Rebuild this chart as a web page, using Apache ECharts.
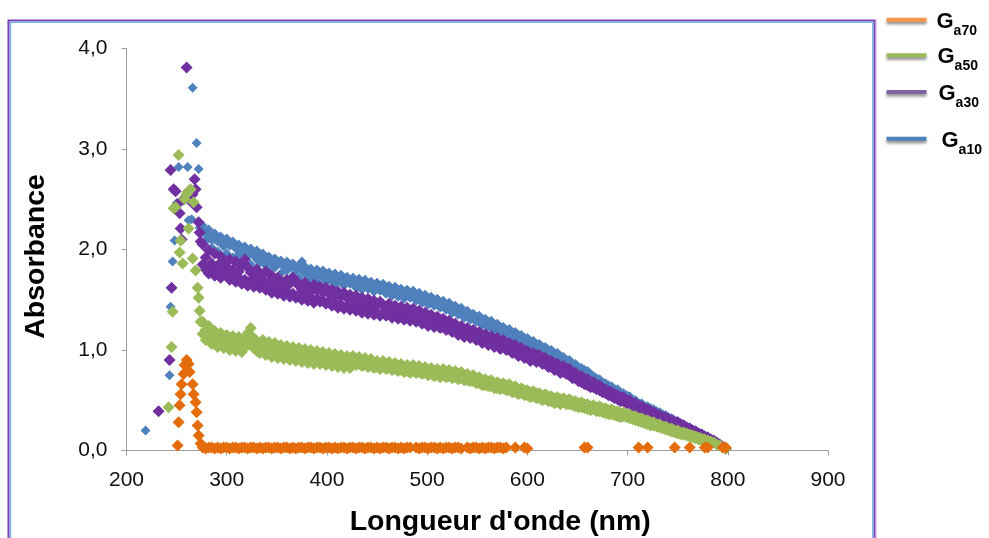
<!DOCTYPE html>
<html><head><meta charset="utf-8">
<script src="https://cdn.jsdelivr.net/npm/echarts@6/dist/echarts.min.js"></script>
<style>html,body{margin:0;padding:0;background:#fff}#c{width:989px;height:538px}</style>
</head><body><div id="c"></div>
<script>
// ---- data ----
const seriesNames = ['Ga70', 'Ga50', 'Ga30', 'Ga10'];
const xTicks = [200, 300, 400, 500, 600, 700, 800, 900];
const yTicks = [0, 1, 2, 3, 4];
const yTickLabels = ['0,0', '1,0', '2,0', '3,0', '4,0'];

const wavelengths = [
  276,279,282,285,288,291,294,297,300,303,
  306,309,312,315,318,321,324,327,330,333,
  336,339,342,345,348,351,354,357,360,363,
  366,369,372,375,378,381,384,387,390,393,
  396,399,402,405,408,411,414,417,420,423,
  426,429,432,435,438,441,444,447,450,453,
  456,459,462,465,468,471,474,477,480,483,
  486,489,492,495,498,501,504,507,510,513,
  516,519,522,525,528,531,534,537,540,543,
  546,549,552,555,558,561,564,567,570,573,
  576,579,582,585,588,591,594,597,600,603,
  606,609,612,615,618,621,624,627,630,633,
  636,639,642,645,648,651,654,657,660,663,
  666,669,672,675,678,681,684,687,690,693,
  696,699,702,705,708,711,714,717,720,723,
  726,729,732,735,738,741,744,747,750,753,
  756,759,762,765,768,771,774,777,780,783,
  786,789,792,795,798
];

// first reading of each band
const ga10Band = [
  2.18,2.08,2.14,2.02,2.10,1.98,2.07,2.03,1.96,2.04,
  1.92,2.02,1.95,1.88,1.99,1.93,1.85,1.96,1.90,1.87,
  1.93,1.84,1.80,1.89,1.82,1.86,1.76,1.83,1.79,1.85,
  1.74,1.79,1.72,1.88,1.76,1.70,1.77,1.72,1.68,1.75,
  1.72,1.67,1.74,1.69,1.65,1.71,1.68,1.64,1.70,1.66,
  1.67,1.62,1.66,1.60,1.64,1.61,1.65,1.58,1.62,1.59,
  1.61,1.56,1.59,1.54,1.58,1.53,1.56,1.51,1.55,1.52,
  1.54,1.49,1.52,1.47,1.50,1.45,1.48,1.44,1.46,1.42,
  1.44,1.40,1.42,1.37,1.39,1.35,1.36,1.32,1.34,1.30,
  1.31,1.28,1.29,1.25,1.26,1.23,1.24,1.20,1.21,1.18,
  1.19,1.16,1.16,1.12,1.13,1.10,1.10,1.07,1.07,1.04,
  1.04,1.01,1.01,0.98,0.98,0.95,0.95,0.92,0.92,0.89,
  0.89,0.86,0.86,0.82,0.82,0.79,0.78,0.76,0.75,0.72,
  0.71,0.69,0.68,0.65,0.64,0.62,0.61,0.58,0.58,0.55,
  0.54,0.52,0.51,0.48,0.48,0.45,0.45,0.42,0.42,0.40,
  0.39,0.37,0.36,0.34,0.33,0.31,0.31,0.29,0.28,0.26,
  0.25,0.23,0.22,0.20,0.19,0.17,0.16,0.14,0.13,0.11,
  0.10,0.08,0.06,0.04,0.02
];
const ga30Band = [
  2.05,1.92,1.99,1.86,1.96,1.84,1.93,1.88,1.82,1.90,
  1.80,1.88,1.78,1.84,1.90,1.82,1.77,1.71,1.80,1.75,
  1.70,1.78,1.68,1.74,1.65,1.72,1.67,1.63,1.70,1.66,
  1.72,1.69,1.64,1.60,1.67,1.62,1.58,1.65,1.60,1.63,
  1.57,1.62,1.56,1.60,1.54,1.58,1.53,1.57,1.52,1.55,
  1.50,1.54,1.48,1.52,1.46,1.51,1.45,1.49,1.44,1.48,
  1.45,1.42,1.46,1.40,1.44,1.39,1.43,1.38,1.42,1.39,
  1.41,1.36,1.39,1.34,1.37,1.32,1.35,1.31,1.33,1.30,
  1.31,1.28,1.29,1.25,1.26,1.23,1.24,1.20,1.22,1.19,
  1.20,1.17,1.18,1.14,1.16,1.12,1.14,1.10,1.12,1.08,
  1.10,1.07,1.07,1.04,1.05,1.01,1.02,0.99,0.99,0.96,
  0.97,0.95,0.95,0.92,0.92,0.89,0.89,0.86,0.86,0.83,
  0.84,0.81,0.81,0.77,0.77,0.74,0.74,0.71,0.71,0.68,
  0.68,0.65,0.65,0.62,0.61,0.59,0.58,0.56,0.55,0.53,
  0.53,0.50,0.50,0.47,0.47,0.44,0.44,0.41,0.41,0.39,
  0.38,0.36,0.35,0.33,0.33,0.31,0.30,0.28,0.28,0.26,
  0.25,0.23,0.22,0.20,0.19,0.17,0.16,0.14,0.13,0.11,
  0.10,0.08,0.06,0.04,0.02
];
const ga50Band = [
  1.28,1.20,1.24,1.16,1.19,1.13,1.17,1.11,1.15,1.10,
  1.14,1.09,1.13,1.08,1.12,1.17,1.22,1.12,1.09,1.06,
  1.10,1.04,1.08,1.02,1.07,1.01,1.05,1.00,1.04,0.99,
  1.03,0.98,1.02,0.97,1.01,0.96,1.00,0.95,0.99,0.96,
  0.98,0.94,0.97,0.93,0.96,0.92,0.95,0.91,0.94,0.92,
  0.94,0.90,0.93,0.89,0.92,0.88,0.91,0.87,0.89,0.86,
  0.89,0.86,0.88,0.85,0.87,0.84,0.86,0.83,0.85,0.82,
  0.85,0.82,0.84,0.81,0.83,0.80,0.82,0.79,0.81,0.78,
  0.81,0.78,0.80,0.77,0.79,0.76,0.78,0.75,0.76,0.74,
  0.75,0.72,0.73,0.70,0.71,0.69,0.70,0.67,0.68,0.66,
  0.67,0.65,0.66,0.63,0.64,0.61,0.62,0.60,0.60,0.58,
  0.59,0.57,0.57,0.55,0.56,0.54,0.54,0.52,0.53,0.51,
  0.52,0.50,0.51,0.49,0.49,0.47,0.48,0.46,0.46,0.44,
  0.45,0.43,0.44,0.42,0.42,0.40,0.41,0.39,0.39,0.37,
  0.38,0.36,0.36,0.34,0.34,0.32,0.32,0.30,0.30,0.28,
  0.28,0.26,0.26,0.24,0.24,0.22,0.22,0.20,0.20,0.18,
  0.18,0.17,0.16,0.15,0.14,0.13,0.12,0.11,0.10,0.09,
  0.08,0.06,0.05,0.03,0.02
];
const ga70Band = [
  0.03,0.02,0.03,0.03,0.02,0.03,0.02,0.03,0.03,0.02,
  0.03,0.03,0.02,0.03,0.03,0.02,0.03,0.03,0.02,0.03,
  0.02,0.03,0.03,0.02,0.03,0.03,0.02,0.03,0.03,0.02,
  0.03,0.02,0.03,0.03,0.02,0.03,0.03,0.02,0.03,0.03,
  0.02,0.03,0.03,0.02,0.03,0.02,0.03,0.03,0.02,0.03,
  0.03,0.02,0.03,0.03,0.02,0.03,0.03,0.02,0.03,0.02,
  0.03,0.03,0.02,0.03,0.03,0.02,0.03,0.02,0.03,0.03,
  null,0.03,0.02,0.03,0.03,0.02,0.03,0.03,0.02,0.03,
  0.02,0.03,0.03,0.02,0.03,0.03,0.02,null,0.03,0.02,
  0.03,0.03,0.02,0.03,0.02,0.03,0.03,0.02,0.03,0.03,
  0.02,0.03,null,null,0.03,null,null,0.03,0.02,null,
  null,null,null,null,null,null,null,null,null,null,
  null,null,null,null,null,null,null,0.03,0.03,null,
  null,null,null,null,null,null,null,null,null,null,
  null,null,null,null,null,0.03,null,null,0.03,null,
  null,null,null,null,null,null,null,0.03,null,null,
  null,null,0.03,null,null,null,null,0.03,0.03,null,
  null,null,null,0.03,0.03
];

// second reading (276-783 nm)
const ga10BandB = [
  2.24,2.15,2.20,2.10,2.16,2.08,2.13,2.06,2.11,2.04,
  2.08,2.01,2.05,1.98,2.03,1.96,2.01,1.94,1.99,1.93,
  1.96,1.90,1.93,1.87,1.91,1.85,1.89,1.83,1.88,1.82,
  1.86,1.80,1.84,1.79,1.83,1.77,1.81,1.76,1.80,1.75,
  1.79,1.74,1.77,1.72,1.76,1.71,1.75,1.70,1.73,1.69,
  1.72,1.68,1.71,1.66,1.70,1.65,1.68,1.64,1.67,1.63,
  1.66,1.61,1.64,1.60,1.63,1.58,1.61,1.57,1.60,1.56,
  1.59,1.54,1.57,1.52,1.55,1.50,1.53,1.49,1.51,1.47,
  1.49,1.45,1.47,1.43,1.44,1.40,1.42,1.38,1.39,1.35,
  1.36,1.33,1.34,1.30,1.31,1.28,1.29,1.25,1.26,1.23,
  1.23,1.20,1.21,1.17,1.18,1.15,1.15,1.12,1.12,1.09,
  1.09,1.06,1.06,1.03,1.03,1.00,1.00,0.97,0.97,0.94,
  0.93,0.90,0.90,0.86,0.86,0.83,0.82,0.80,0.79,0.76,
  0.74,0.72,0.71,0.68,0.67,0.65,0.64,0.61,0.61,0.58,
  0.57,0.55,0.54,0.51,0.50,0.47,0.47,0.44,0.44,0.42,
  0.41,0.39,0.38,0.36,0.35,0.33,0.32,0.30,0.29,0.27,
  0.26,0.24,0.23,0.21,0.20,0.18,0.17,0.15,0.14,0.12
];
const ga30BandB = [
  1.85,1.80,1.76,1.82,1.74,1.79,1.72,1.77,1.75,1.70,
  1.73,1.68,1.72,1.66,1.70,1.64,1.69,1.63,1.67,1.62,
  1.64,1.60,1.63,1.57,1.61,1.56,1.59,1.54,1.58,1.53,
  1.56,1.52,1.55,1.50,1.53,1.49,1.52,1.47,1.51,1.48,
  1.49,1.46,1.48,1.44,1.47,1.42,1.45,1.41,1.44,1.40,
  1.43,1.39,1.42,1.37,1.40,1.36,1.39,1.35,1.37,1.34,
  1.37,1.34,1.36,1.32,1.35,1.31,1.33,1.30,1.32,1.29,
  1.32,1.28,1.30,1.26,1.28,1.24,1.27,1.23,1.25,1.22,
  1.23,1.20,1.21,1.18,1.19,1.15,1.17,1.13,1.15,1.12,
  1.13,1.10,1.11,1.07,1.09,1.05,1.07,1.03,1.05,1.01,
  1.03,1.00,1.01,0.97,0.98,0.94,0.95,0.92,0.93,0.89,
  0.91,0.88,0.89,0.86,0.86,0.83,0.83,0.80,0.80,0.77,
  0.78,0.76,0.75,0.72,0.72,0.69,0.68,0.66,0.65,0.63,
  0.63,0.61,0.60,0.58,0.57,0.55,0.54,0.52,0.51,0.49,
  0.49,0.47,0.46,0.44,0.43,0.41,0.40,0.38,0.37,0.35,
  0.35,0.33,0.32,0.30,0.30,0.28,0.27,0.25,0.25,0.23,
  0.23,0.21,0.20,0.18,0.17,0.15,0.14,0.12,0.11,0.09
];
const ga50BandB = [
  1.16,1.10,1.13,1.06,1.09,1.03,1.07,1.02,1.05,1.00,
  1.04,0.99,1.03,0.98,1.02,1.06,1.10,1.02,0.99,0.97,
  1.00,0.95,0.98,0.93,0.97,0.92,0.95,0.91,0.94,0.90,
  0.93,0.89,0.92,0.88,0.91,0.87,0.90,0.86,0.89,0.86,
  0.89,0.85,0.88,0.84,0.87,0.83,0.86,0.82,0.85,0.82,
  0.87,0.85,0.86,0.84,0.85,0.83,0.84,0.82,0.83,0.81,
  0.83,0.81,0.82,0.80,0.81,0.79,0.80,0.78,0.79,0.77,
  0.79,0.77,0.78,0.76,0.77,0.75,0.76,0.74,0.75,0.73,
  0.75,0.73,0.74,0.72,0.73,0.71,0.72,0.70,0.70,0.69,
  0.69,0.67,0.67,0.65,0.65,0.64,0.64,0.62,0.62,0.61,
  0.62,0.60,0.60,0.58,0.58,0.56,0.57,0.55,0.55,0.53,
  0.54,0.52,0.52,0.50,0.51,0.49,0.49,0.47,0.48,0.46,
  0.48,0.46,0.46,0.45,0.44,0.43,0.43,0.42,0.41,0.40,
  0.41,0.39,0.39,0.38,0.37,0.36,0.36,0.35,0.34,0.33,
  0.34,0.33,0.32,0.31,0.30,0.29,0.28,0.27,0.26,0.25,
  0.25,0.24,0.23,0.22,0.21,0.20,0.19,0.18,0.17,0.16,
  0.16,0.15,0.14,0.13,0.12,0.11,0.10,0.09,0.08,0.07
];

// UV peak region (irregular readings)
const ga10PeakX = [219, 243, 244, 246, 248, 250, 252, 261, 262, 265, 266, 270, 272, 273];
const ga10PeakY = [0.20, 0.75, 1.43, 1.88, 2.09, 2.46, 2.82, 2.82, 2.29, 2.30, 3.61, 3.06, 2.80, 2.22];
const ga30PeakX = [232, 243, 245, 244, 247, 249, 251, 253, 254, 255, 257, 260, 262, 264, 266, 268, 269, 270, 272, 273, 274];
const ga30PeakY = [0.39, 0.90, 1.62, 2.79, 2.60, 2.58, 2.45, 2.36, 2.21, 2.10, 2.50, 3.81, 2.58, 2.48, 2.55, 2.70, 2.60, 2.42, 2.27, 2.17, 2.08];
const ga50PeakX = [242, 245, 246, 247, 249, 252, 253, 254, 256, 258, 260, 261, 262, 264, 266, 267, 269, 271, 272, 273, 274];
const ga50PeakY = [0.43, 1.03, 1.38, 2.41, 2.42, 2.94, 1.97, 2.09, 1.86, 2.50, 2.55, 2.57, 2.21, 2.60, 1.91, 2.47, 1.79, 1.62, 1.52, 1.39, 1.28];
const ga70PeakX = [251, 252, 253, 254, 255, 257, 258, 260, 262, 263, 266, 267, 269, 270, 271, 272, 274];
const ga70PeakY = [0.05, 0.28, 0.45, 0.56, 0.66, 0.76, 0.85, 0.90, 0.86, 0.78, 0.66, 0.56, 0.48, 0.38, 0.25, 0.15, 0.07];

// ---- build ----
function pairs(xs, ys) {
  const out = [];
  for (let i = 0; i < xs.length && i < ys.length; i++) if (ys[i] != null) out.push([xs[i], ys[i]]);
  return out;
}
const seriesData = {
  Ga10: pairs(ga10PeakX, ga10PeakY).concat(pairs(wavelengths, ga10BandB), pairs(wavelengths, ga10Band)),
  Ga30: pairs(ga30PeakX, ga30PeakY).concat(pairs(wavelengths, ga30BandB), pairs(wavelengths, ga30Band)),
  Ga50: pairs(ga50PeakX, ga50PeakY).concat(pairs(wavelengths, ga50BandB), pairs(wavelengths, ga50Band)),
  Ga70: pairs(ga70PeakX, ga70PeakY).concat(pairs(wavelengths, ga70Band))
};
const markColor = { Ga70: '#E46C0A', Ga50: '#9BBB59', Ga30: '#7030A0', Ga10: '#4F81BD' };
const legendColor = { Ga70: '#F79646', Ga50: '#9BBB59', Ga30: '#8064A2', Ga10: '#4F81BD' };
const markSize = { Ga70: 12, Ga50: 12, Ga30: 12, Ga10: 10 };
const legendIconY = { Ga70: 22.7, Ga50: 58.3, Ga30: 95, Ga10: 141.7 };
const legendTextPad = { Ga70: 5, Ga50: 6, Ga30: 7, Ga10: 10 };

const FONT = 'Liberation Sans, Arial, sans-serif';
const chart = echarts.init(document.getElementById('c'), null, { renderer: 'canvas' });

const drawOrder = ['Ga10', 'Ga30', 'Ga50', 'Ga70'];
const option = {
  animation: false,
  backgroundColor: '#ffffff',
  grid: { left: 126.5, top: 48.5, right: 161, bottom: 87.5, containLabel: false, outerBoundsMode: 'none' },
  xAxis: {
    type: 'value', min: xTicks[0], max: xTicks[xTicks.length - 1], interval: 100,
    name: "Longueur d'onde (nm)", nameLocation: 'middle', nameGap: 57,
    nameTextStyle: { fontFamily: FONT, fontWeight: 'bold', fontSize: 28.5, color: '#000', padding: [0, 0, 0, 46] },
    axisLine: { lineStyle: { color: '#9d9d9d', width: 1 } },
    axisTick: { show: true, length: 5, lineStyle: { color: '#9d9d9d' } },
    axisLabel: { fontFamily: FONT, fontSize: 21, color: '#111', margin: 19 },
    splitLine: { show: false }
  },
  yAxis: {
    type: 'value', min: yTicks[0], max: yTicks[yTicks.length - 1], interval: 1,
    name: 'Absorbance', nameLocation: 'middle', nameGap: 76,
    nameTextStyle: { fontFamily: FONT, fontWeight: 'bold', fontSize: 28.5, color: '#000', padding: [0, 14, 0, 0] },
    axisLine: { show: true, lineStyle: { color: '#9d9d9d', width: 1 } },
    axisTick: { show: true, length: 5, lineStyle: { color: '#9d9d9d' } },
    axisLabel: { fontFamily: FONT, fontSize: 21, color: '#111', margin: 19,
      formatter: v => yTickLabels[yTicks.indexOf(v)] },
    splitLine: { show: false }
  },
  legend: seriesNames.map(n => ({
    data: [{ name: n, itemStyle: { color: legendColor[n] } }],
    left: 886.5, top: legendIconY[n] - 15, padding: 0,
    icon: 'rect', itemWidth: 40, itemHeight: 4,
    itemStyle: { shadowBlur: 3, shadowColor: 'rgba(0,0,0,0.45)', shadowOffsetY: 2.5 },
    formatter: name => '{g|G}{s|' + name.slice(1) + '}',
    textStyle: {
      rich: {
        g: { fontFamily: FONT, fontWeight: 'bold', fontSize: 22, color: '#000', lineHeight: 24, verticalAlign: 'top', padding: [3, 0, 0, legendTextPad[n]] },
        s: { fontFamily: FONT, fontWeight: 'bold', fontSize: 14, color: '#000', lineHeight: 14, verticalAlign: 'top', padding: [16, 0, 0, 0] }
      }
    },
    selectedMode: false
  })),
  graphic: [
    { type: 'rect', shape: { x: 8.5, y: 20.5, width: 866, height: 560 }, style: { fill: 'none', stroke: '#7B3FB8', lineWidth: 2 }, silent: true, z: 100 },
    { type: 'rect', shape: { x: 10.5, y: 22.3, width: 862.3, height: 560 }, style: { fill: 'none', stroke: '#7FB2E3', lineWidth: 1.5 }, silent: true, z: 100 },
    { type: 'rect', shape: { x: 876.5, y: 19, width: 0.1, height: 560 }, style: { fill: 'none', stroke: '#E6CCF2', lineWidth: 1 }, silent: true, z: 100 }
  ],
  series: drawOrder.map(n => ({
    name: n, type: 'scatter', symbol: 'diamond', symbolSize: markSize[n],
    itemStyle: { color: markColor[n], opacity: 1 },
    data: seriesData[n], large: false, silent: true
  }))
};
chart.setOption(option);
</script>
</body></html>
